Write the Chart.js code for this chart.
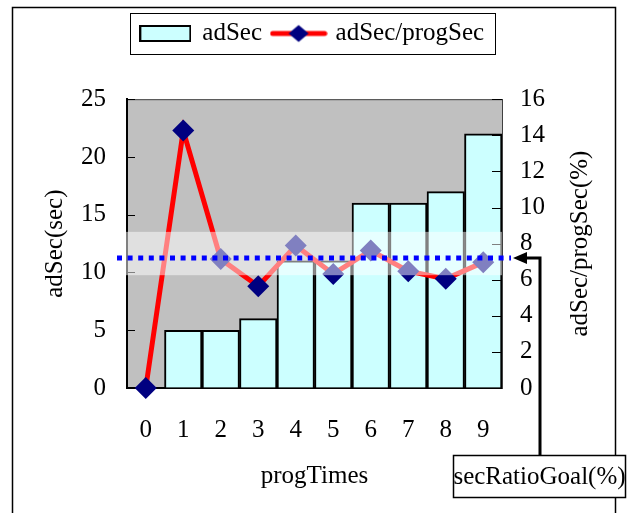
<!DOCTYPE html>
<html>
<head>
<meta charset="utf-8">
<script src="https://cdn.jsdelivr.net/npm/chart.js@4.4.1/dist/chart.umd.min.js"></script>
<style>
  html, body { margin: 0; padding: 0; background: #fff; }
  #wrap { width: 629px; height: 513px; }
</style>
</head>
<body>
<div id="wrap"><canvas id="chart" width="629" height="513"></canvas></div>
<script>
// data
const progTimes = ['0', '1', '2', '3', '4', '5', '6', '7', '8', '9'];
const adSec = [0, 5, 5, 6, 11, 11, 16, 16, 17, 22];
const adSecRatio = [0, 14.26, 7.14, 5.64, 7.89, 6.32, 7.62, 6.47, 6.05, 6.96];
const secRatioGoal = 7.2;
const goalBand = [6.25, 8.65];
const adSecRange = [0, 25, 5];
const ratioRange = [0, 16, 2];

const FONT = '"Liberation Serif", "Times New Roman", serif';
const CYAN = '#ccffff';
const NAVY = '#000080';

Chart.defaults.font.family = FONT;
Chart.defaults.font.size = 25;
Chart.defaults.color = '#000';

// little pictures for the legend entries
function barIcon() {
  const c = document.createElement('canvas');
  c.width = 52; c.height = 17;
  const g = c.getContext('2d');
  g.fillStyle = CYAN;
  g.fillRect(1, 1, 50, 15);
  g.strokeStyle = '#000';
  g.lineWidth = 2;
  g.strokeRect(1, 1, 50, 15);
  return c;
}
function lineIcon() {
  const c = document.createElement('canvas');
  c.width = 58; c.height = 20;
  const g = c.getContext('2d');
  g.strokeStyle = '#ff0000';
  g.lineWidth = 5;
  g.lineCap = 'round';
  g.beginPath(); g.moveTo(3, 10); g.lineTo(55, 10); g.stroke();
  g.fillStyle = NAVY;
  g.beginPath();
  g.moveTo(29, 1.5); g.lineTo(39, 10); g.lineTo(29, 18.5); g.lineTo(19, 10);
  g.closePath(); g.fill();
  return c;
}
const icons = [barIcon(), lineIcon()];

const decor = {
  id: 'decor',
  beforeDraw(chart) {
    const {ctx, chartArea: a} = chart;
    ctx.save();
    ctx.fillStyle = '#fff';
    ctx.fillRect(0, 0, chart.width, chart.height);
    ctx.strokeStyle = '#000';
    ctx.lineWidth = 1.5;
    ctx.strokeRect(12.5, 7.5, 603, 600);
    ctx.fillStyle = '#c0c0c0';
    ctx.fillRect(a.left, a.top, a.right - a.left, a.bottom - a.top);
    ctx.strokeStyle = '#404040';
    ctx.lineWidth = 1;
    ctx.beginPath();
    ctx.moveTo(a.left, a.top + 0.5); ctx.lineTo(a.right, a.top + 0.5);
    ctx.stroke();
    ctx.restore();
  },
  afterDatasetsDraw(chart) {
    const {ctx, chartArea: a, scales} = chart;
    const y = scales.y, y1 = scales.y1;
    ctx.save();
    // inward tick marks
    ctx.strokeStyle = '#000';
    ctx.lineWidth = 1;
    y.ticks.forEach(t => {
      if (t.value === 0) return;
      const p = Math.round(y.getPixelForValue(t.value)) + 0.5;
      ctx.beginPath(); ctx.moveTo(a.left, p); ctx.lineTo(a.left + 8, p); ctx.stroke();
    });
    y1.ticks.forEach(t => {
      if (t.value === 0) return;
      const p = Math.round(y1.getPixelForValue(t.value)) + 0.5;
      ctx.beginPath(); ctx.moveTo(a.right - 10, p); ctx.lineTo(a.right, p); ctx.stroke();
    });

    // goal band
    const bTop = y1.getPixelForValue(goalBand[1]);
    const bBot = y1.getPixelForValue(goalBand[0]);
    ctx.fillStyle = 'rgba(255,255,255,0.5)';
    ctx.fillRect(a.left - 10, bTop, a.right - a.left + 10, bBot - bTop);

    // goal line
    const gy = y1.getPixelForValue(secRatioGoal);
    const tipX = a.right + 11;
    ctx.strokeStyle = '#0000ff';
    ctx.lineWidth = 5;
    ctx.setLineDash([5, 5.6]);
    ctx.beginPath(); ctx.moveTo(a.left - 10, gy); ctx.lineTo(tipX - 2, gy); ctx.stroke();
    ctx.setLineDash([]);

    // arrow + connector to the note
    ctx.fillStyle = '#000';
    ctx.beginPath();
    ctx.moveTo(tipX, gy); ctx.lineTo(tipX + 14, gy - 6); ctx.lineTo(tipX + 14, gy + 6);
    ctx.closePath(); ctx.fill();
    ctx.strokeStyle = '#000';
    ctx.lineWidth = 3;
    ctx.beginPath();
    ctx.moveTo(tipX + 12, gy); ctx.lineTo(540, gy); ctx.lineTo(540, 456);
    ctx.stroke();

    ctx.fillStyle = '#fff';
    ctx.fillRect(453, 455, 172, 42);
    ctx.lineWidth = 1.5;
    ctx.strokeRect(453.5, 455.5, 172, 42);
    ctx.fillStyle = '#000';
    ctx.font = '25px ' + FONT;
    ctx.textAlign = 'center';
    ctx.textBaseline = 'middle';
    ctx.fillText('secRatioGoal(%)', 539.5, 477);
    ctx.restore();
  },
  afterDraw(chart) {
    const {ctx, chartArea: a, legend} = chart;
    ctx.save();
    // right axis title, reading upwards like the left one
    ctx.translate(580, (a.top + a.bottom) / 2);
    ctx.rotate(-Math.PI / 2);
    ctx.font = '25px ' + FONT;
    ctx.fillStyle = '#000';
    ctx.textAlign = 'center';
    ctx.textBaseline = 'middle';
    ctx.fillText('adSec/progSec(%)', 0, 0);
    ctx.restore();

    // frame round the legend
    const hb = legend.legendHitBoxes;
    if (hb && hb.length) {
      const first = hb[0], last = hb[hb.length - 1];
      const cy = first.top + first.height / 2;
      const l = Math.round(first.left - 11) + 0.5;
      const r = Math.round(last.left + last.width + 11) + 0.5;
      ctx.save();
      ctx.strokeStyle = '#000';
      ctx.lineWidth = 1;
      ctx.strokeRect(l, Math.round(cy - 21) + 0.5, r - l, 41);
      ctx.restore();
    }
  }
};

new Chart(document.getElementById('chart'), {
  type: 'bar',
  data: {
    labels: progTimes,
    datasets: [
      {
        label: 'adSec',
        data: adSec,
        yAxisID: 'y',
        backgroundColor: CYAN,
        borderColor: '#000',
        borderWidth: 2,
        barPercentage: 1,
        categoryPercentage: 1,
        order: 2,
      },
      {
        type: 'line',
        label: 'adSec/progSec',
        data: adSecRatio,
        yAxisID: 'y1',
        borderColor: '#ff0000',
        borderWidth: 5,
        pointStyle: 'rectRot',
        pointRadius: 11,
        pointHoverRadius: 11,
        pointBackgroundColor: NAVY,
        pointBorderColor: NAVY,
        pointBorderWidth: 0,
        tension: 0,
        clip: false,
        order: 1,
      },
    ],
  },
  options: {
    responsive: false,
    animation: false,
    events: [],
    layout: { padding: { top: 9, left: 0, right: 4, bottom: 0 } },
    plugins: {
      legend: {
        position: 'top',
        labels: {
          usePointStyle: true,
          pointStyleWidth: 49,
          padding: 12,
          font: { size: 25 },
          generateLabels(chart) {
            return chart.data.datasets.map((ds, i) => ({
              text: ds.label,
              pointStyle: icons[i],
              datasetIndex: i,
              hidden: false,
              lineWidth: 0,
              fontColor: '#000',
            }));
          },
        },
      },
      subtitle: {
        display: true,
        text: '',
        weight: 500,
        font: { size: 1 },
        padding: { top: 0, bottom: 42 },
      },
      tooltip: { enabled: false },
    },
    scales: {
      x: {
        offset: true,
        grid: { display: false, drawTicks: false },
        border: { display: true, color: '#000', width: 2 },
        ticks: { padding: 27 },
        title: { display: true, text: 'progTimes', padding: { top: 0, bottom: 22 } },
        afterFit(s) { s.height = 125; },
      },
      y: {
        position: 'left',
        min: adSecRange[0],
        max: adSecRange[1],
        ticks: { stepSize: adSecRange[2], padding: 21 },
        grid: { drawOnChartArea: false, drawTicks: false },
        border: { display: true, color: '#000', width: 2 },
        title: { display: true, text: 'adSec(sec)', padding: { top: 40, bottom: 0 } },
        afterFit(s) { s.width = 127; },
      },
      y1: {
        position: 'right',
        min: ratioRange[0],
        max: ratioRange[1],
        ticks: { stepSize: ratioRange[2], padding: 18 },
        grid: { drawOnChartArea: false, drawTicks: false },
        border: { display: true, color: '#404040', width: 1 },
        afterFit(s) { s.width = 123; },
      },
    },
  },
  plugins: [decor],
});
</script>
</body>
</html>
